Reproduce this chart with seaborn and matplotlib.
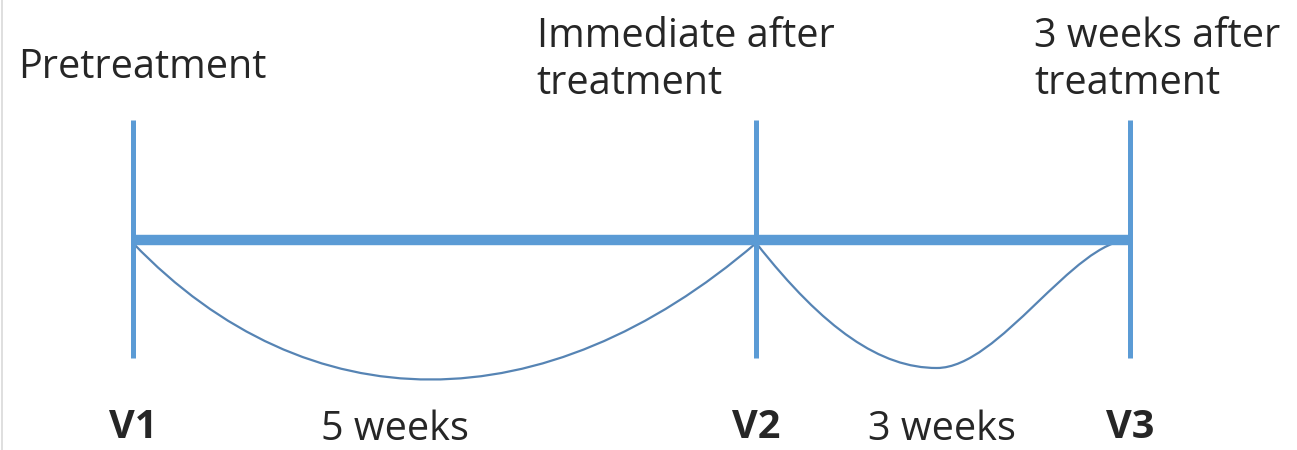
import numpy as np
import pandas as pd
import seaborn as sns
import matplotlib.pyplot as plt
from matplotlib.path import Path
from matplotlib.patches import PathPatch

# ---------- DATA
visits = ["V1", "V2", "V3"]
visit_weeks = [0, 5, 8]
visit_labels = ["Pretreatment", "Immediate after\ntreatment", "3 weeks after\ntreatment"]
interval_labels = ["5 weeks", "3 weeks"]

# ---------- STYLE
sns.set_theme(style="white")
plt.rcParams['font.family'] = ['Open Sans', 'DejaVu Sans']
blue = "#5b9bd5"
curve_blue = "#5684b4"
text_col = "#262626"
fs = 28.5

fig = plt.figure(figsize=(12.97, 4.5), dpi=100)
ax = fig.add_axes([0, 0, 1, 1])
ax.set_xlim(-1.067, 9.34)
ax.set_ylim(450, 0)
ax.axis("off")

# main timeline
df = pd.DataFrame({"week": [visit_weeks[0], visit_weeks[-1]], "y": [240, 240]})
sns.lineplot(data=df, x="week", y="y", ax=ax, color=blue, linewidth=7.5,
             solid_capstyle="butt")

# visit markers
for w in visit_weeks:
    ax.plot([w, w], [120, 358], color=blue, linewidth=3.6, solid_capstyle="butt")

# interval braces
w0, w1, w2 = visit_weeks
verts1 = [(w0, 243), (w0 + 1.4, 425), (w0 + 3.3, 425), (w1, 243)]
codes1 = [Path.MOVETO, Path.CURVE4, Path.CURVE4, Path.CURVE4]
verts2 = [(w1, 243), (w1 + 0.55, 330), (w1 + 1.0, 368), (w1 + 1.45, 368),
          (w1 + 1.95, 368), (w2 - 0.45, 240), (w2, 240)]
codes2 = [Path.MOVETO, Path.CURVE4, Path.CURVE4, Path.CURVE4,
          Path.CURVE4, Path.CURVE4, Path.CURVE4]
for v, c in [(verts1, codes1), (verts2, codes2)]:
    ax.add_patch(PathPatch(Path(v, c), facecolor="none", edgecolor=curve_blue,
                           linewidth=1.6))

# top labels
top_pos = [(-0.92, 68), (3.24, 60), (7.23, 60)]
for (x, y), lab in zip(top_pos, visit_labels):
    ax.text(x, y, lab, ha="left", va="center", fontsize=fs, color=text_col,
            linespacing=1.2)

# visit names
for w, v in zip(visit_weeks, visits):
    ax.text(w, 428, v, ha="center", va="center", fontsize=fs,
            fontweight="bold", color=text_col)

# interval names
mid_pos = [(2.10, 430), (6.49, 430)]
for (x, y), lab in zip(mid_pos, interval_labels):
    ax.text(x, y, lab, ha="center", va="center", fontsize=fs, color=text_col)

# faint left frame line
fig.add_artist(plt.Line2D([0.0015, 0.0015], [0, 1], color="#d9d9d9", linewidth=1.2,
                          transform=fig.transFigure))

fig.savefig("out.png", dpi=100)
